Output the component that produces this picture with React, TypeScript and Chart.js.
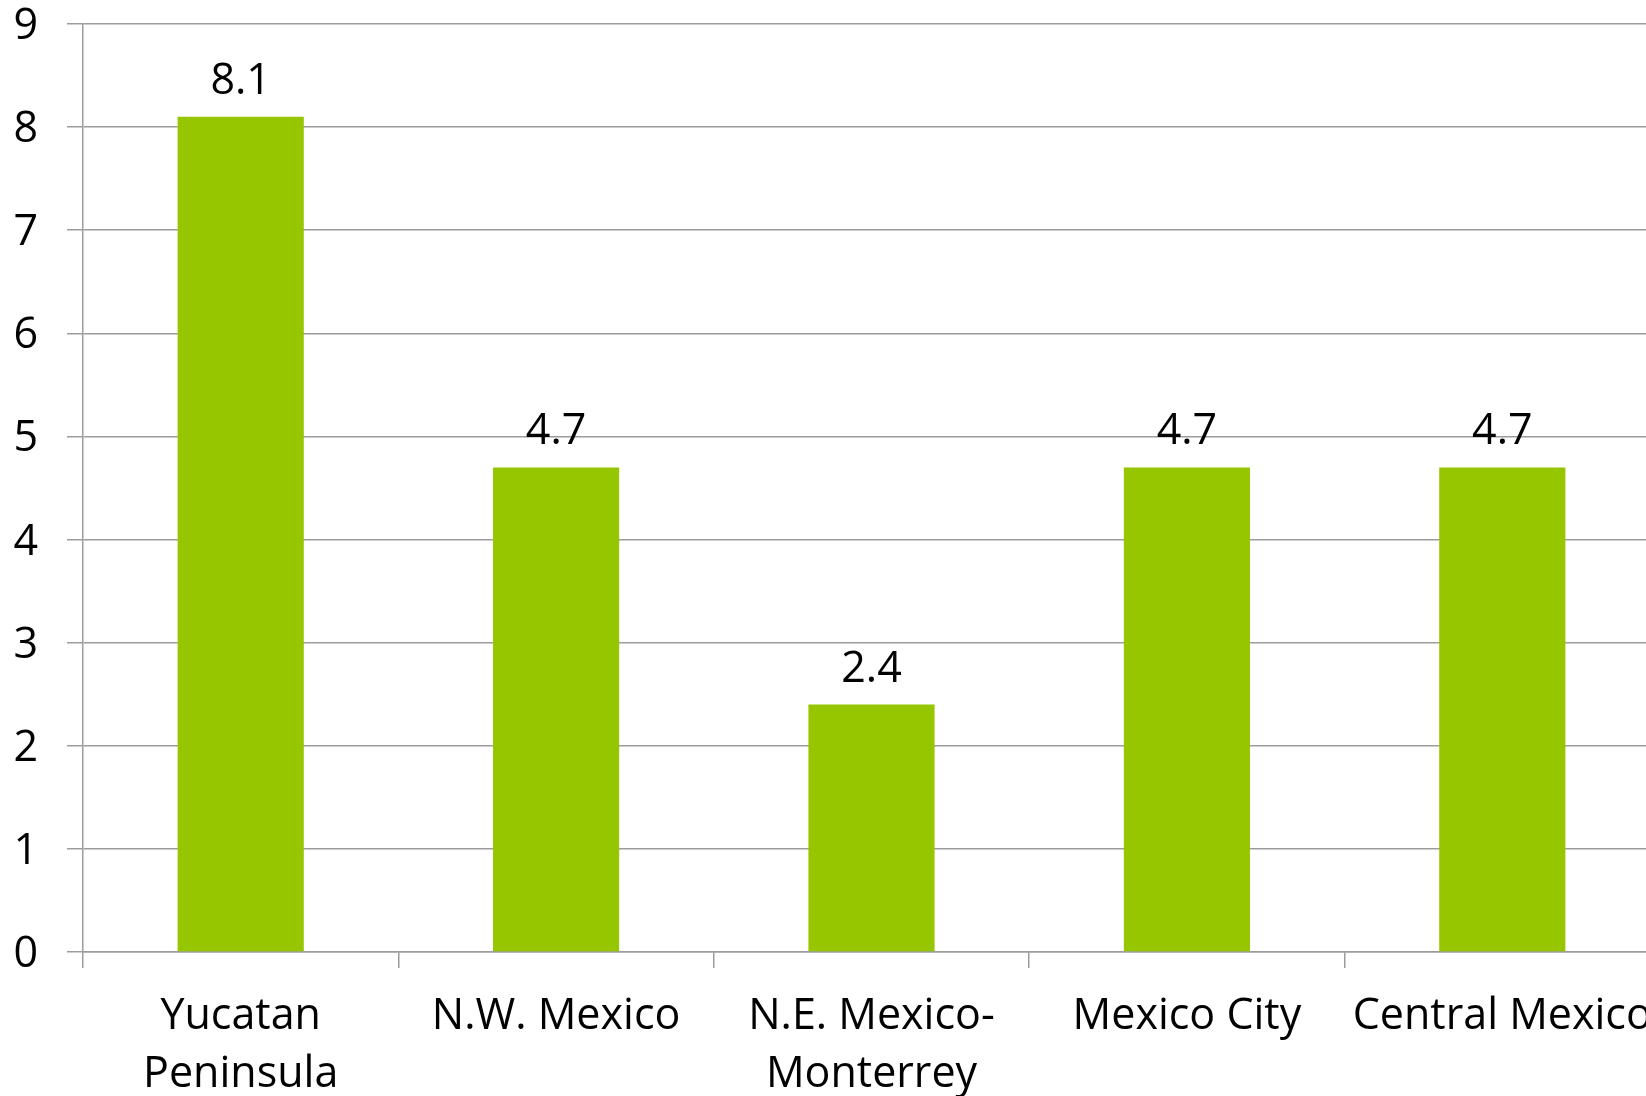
import React, { useEffect, useRef } from "react";
import { Chart, registerables } from "chart.js";

Chart.register(...registerables);

const categories: (string | string[])[] = [
  ["Yucatan", "Peninsula"],
  "N.W. Mexico",
  ["N.E. Mexico-", "Monterrey"],
  "Mexico City",
  "Central Mexico",
];
const values: number[] = [8.1, 4.7, 2.4, 4.7, 4.7];
const valueLabels: string[] = ["8.1", "4.7", "2.4", "4.7", "4.7"];
const yTicks: number[] = [0, 1, 2, 3, 4, 5, 6, 7, 8, 9];

const FONT = "'Open Sans', 'Noto Sans', sans-serif";
const GRID = "#9c9c9c";

const dataLabelPlugin = {
  id: "dataLabels",
  afterDatasetsDraw(chart: any) {
    const ctx = chart.ctx;
    const meta = chart.getDatasetMeta(0);
    ctx.save();
    ctx.font = `43px ${FONT}`;
    ctx.fillStyle = "#000";
    ctx.textAlign = "center";
    ctx.textBaseline = "alphabetic";
    meta.data.forEach((el: any, i: number) => {
      ctx.fillText(valueLabels[i], el.x, el.y - 23);
    });
    // y-axis tick labels, digits centred on their grid lines
    const y = chart.scales.y;
    ctx.textAlign = "right";
    yTicks.forEach((v) => {
      ctx.fillText(String(v), y.right - 16 - 29, y.getPixelForValue(v) + 15);
    });
    ctx.restore();
  },
};

export default function App() {
  const ref = useRef<HTMLCanvasElement>(null);
  useEffect(() => {
    if (!ref.current) return;
    const chart = new Chart(ref.current, {
      type: "bar",
      data: {
        labels: categories,
        datasets: [
          {
            data: values,
            backgroundColor: "#95c600",
            borderWidth: 0,
            barPercentage: 0.4,
            categoryPercentage: 1,
          },
        ],
      },
      options: {
        responsive: false,
        animation: false,
        devicePixelRatio: 1,
        layout: { padding: { top: 24, left: 0, right: 0, bottom: 0 } },
        plugins: {
          legend: { display: false },
          tooltip: { enabled: false },
        },
        scales: {
          x: {
            offset: true,
            grid: {
              offset: true,
              drawOnChartArea: false,
              drawTicks: true,
              tickLength: 16,
              color: GRID,
              lineWidth: 1.5,
            },
            border: { display: true, color: GRID, width: 1.5 },
            ticks: {
              color: "#000",
              font: { family: FONT, size: 43, lineHeight: "58px" },
              padding: 20,
              maxRotation: 0,
              autoSkip: false,
            },
            afterFit(scale: any) {
              scale.height = 144;
              scale.paddingLeft = 0;
              scale.paddingRight = 0;
            },
          },
          y: {
            min: 0,
            max: 9,
            afterBuildTicks(scale: any) {
              scale.ticks = yTicks.map((v) => ({ value: v }));
            },
            grid: {
              color: GRID,
              lineWidth: 1.5,
              tickLength: 16,
            },
            border: { display: true, color: GRID, width: 1.5 },
            ticks: {
              color: "rgba(0,0,0,0)",
              font: { family: FONT, size: 43, lineHeight: 1.15 },
              padding: 29,
            },
            afterFit(scale: any) {
              scale.width = 83;
              scale.paddingTop = 0;
              scale.paddingBottom = 0;
            },
          },
        },
      },
      plugins: [dataLabelPlugin],
    });
    return () => chart.destroy();
  }, []);

  return (
    <div
      style={{
        position: "fixed",
        top: 0,
        left: 0,
        width: 1646,
        height: 1096,
        overflow: "hidden",
        background: "#fff",
      }}
    >
      <canvas ref={ref} width={1660} height={1096} style={{ display: "block" }} />
    </div>
  );
}
